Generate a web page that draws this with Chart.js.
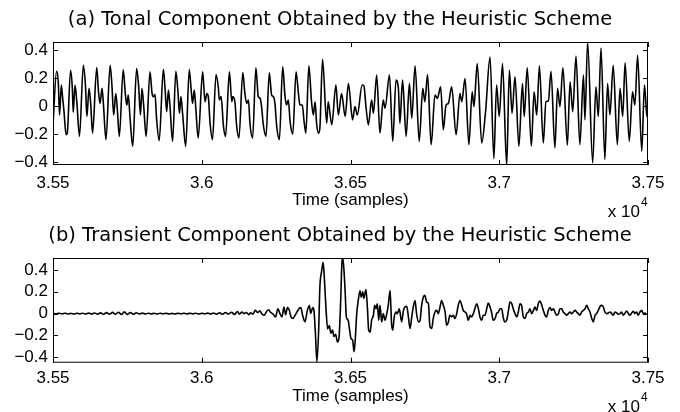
<!DOCTYPE html>
<html>
<head>
<meta charset="utf-8">
<script src="https://cdn.jsdelivr.net/npm/chart.js@4"></script>
<style>
  body { margin: 0; background: #fff; }
  #wrap { position: relative; width: 680px; height: 412px; }
  .panel { position: absolute; left: 0; width: 680px; }
</style>
</head>
<body>
<div id="wrap">
  <div class="panel" style="top:0;height:218px"><canvas id="tonal"></canvas></div>
  <div class="panel" style="top:218px;height:194px"><canvas id="transient"></canvas></div>
</div>
<script>
// ---- data (time in samples, amplitude) ----
const titleA = '(a) Tonal Component Obtained by the Heuristic Scheme';
const titleB = '(b) Transient Component Obtained by the Heuristic Scheme';

const tonalT = [35500,35512,35518,35522,35528,35532,35537,35544,35548,35559,35565,35568,35574,35580,35589,
  35602,35609,35614,35621,35627,35633,35647,35653,35658,35665,35670,35678,35692,35698,35704,35711,35716,35723,
  35736,35743,35748,35753,35759,35768,35781,35788,35794,35799,35805,35813,35826,35833,35837,35843,35848,35857,
  35871,35877,35882,35888,35893,35902,35913,35920,35925,35930,35936,35946,35958,35965,35969,35975,35980,35988,
  36003,36011,36017,36022,36028,36036,36048,36056,36059,36065,36073,36080,36093,36101,36104,36112,36117,36125,
  36138,36145,36151,36157,36162,36171,36182,36190,36196,36201,36207,36216,36227,36235,36241,36246,36252,36261,
  36272,36280,36285,36291,36297,36306,36317,36325,36330,36338,36344,36350,36360,36369,36375,36381,36386,36392,36397,
  36406,36420,36425,36437,36451,36459,36470,36482,36493,
  36507,36515,36523,36539,36545,36552,36560,36571,36577,36588,36599,36610,36616,36631,36642,36653,36661,36666,36675,36687,
  36698,36706,36717,36731,36743,36750,36759,36771,36784,36792,36803,36812,36821,36829,36840,36855,36868,36874,36885,36898,
  36909,36915,36926,36941,36954,36969,36982,
  36991,37000,37011,37025,37034,37043,37053,37066,37078,37084,37094,37108,37117,37126,37135,37148,37157,37165,37174,37187,
  37196,37204,37214,37229,37238,37247,37258,37271,37283,37288,37297,37314,37325,37333,37342,37355,37364,37372,37383,37397,
  37406,37415,37423,37437,37448,37456,37465,37479,37488,37496,37500];
const tonalV = [-0.133,0.251,0.163,-0.062,0.152,0.069,-0.038,-0.204,-0.192,0.258,0.128,-0.043,0.152,0.033,-0.215,
  0.294,0.152,-0.073,0.128,0.009,-0.192,0.277,0.104,0.021,0.128,-0.002,-0.239,0.294,0.152,-0.062,0.092,-0.014,-0.215,
  0.263,0.092,0.009,0.080,-0.085,-0.286,0.270,0.140,-0.062,0.128,-0.002,-0.215,0.246,0.092,0.069,0.085,-0.085,-0.246,
  0.265,0.116,-0.038,0.116,0.009,-0.251,0.251,0.104,-0.050,0.069,-0.062,-0.286,0.263,0.104,0.021,0.116,-0.014,-0.227,
  0.246,0.033,0.092,0.069,-0.121,-0.239,0.227,0.128,0.045,0.069,-0.144,-0.215,0.246,0.033,0.069,0.021,-0.133,-0.227,
  0.241,0.092,0.021,0.045,-0.121,-0.227,0.275,0.069,0.057,-0.002,-0.133,-0.215,0.239,0.080,0.069,0.021,-0.144,-0.239,
  0.282,0.069,0.009,0.045,-0.109,-0.199,0.246,0.092,0.009,0.009,-0.109,-0.192,0.289,0.033,-0.062,0.033,-0.121,-0.192,-0.156,
  0.336,-0.121,0.033,-0.133,0.152,-0.062,0.092,-0.073,0.163,
  -0.097,-0.002,-0.062,0.152,0.147,-0.002,-0.133,0.045,-0.050,0.223,-0.192,0.045,-0.014,0.223,-0.251,0.187,0.128,-0.121,0.187,-0.215,
  0.163,-0.085,0.289,-0.251,0.128,0.033,0.227,-0.275,0.080,0.057,0.140,-0.168,0.009,0.021,0.140,-0.204,0.092,0.033,0.199,-0.275,
  0.104,-0.002,0.305,-0.263,-0.038,0.353,-0.374,
  0.152,-0.073,0.305,-0.421,0.258,-0.050,0.211,-0.286,0.163,-0.073,0.275,-0.286,0.104,-0.062,0.289,-0.263,0.033,0.038,0.251,-0.298,
  0.128,-0.002,0.275,-0.279,0.175,-0.038,0.360,-0.275,0.223,-0.097,0.459,-0.405,0.140,-0.073,0.417,-0.381,0.163,-0.062,0.294,-0.275,
  0.128,-0.073,0.312,-0.251,0.104,0.009,0.365,-0.322,0.152,-0.062,-0.080];

const transT = [35500,35510,35520,35530,35540,35550,35560,35570,35580,35590,35600,35610,35620,35630,35640,35650,
  35660,35670,35680,35690,35700,35710,35720,35730,35740,35750,35760,35770,35780,35790,35800,35810,35820,35830,
  35840,35850,35860,35870,35880,35890,35900,35910,35920,35930,35940,35950,35960,
  35970,35980,35990,36000,36010,36020,36030,36040,36050,36060,36070,36080,36090,36100,36110,
  36120,36127,36135,36142,36150,36158,36165,36172,36180,36188,36195,36203,36210,36218,36225,36232,36240,36248,
  36256,36263,36270,36276,36282,36288,36294,36300,36306,36313,36320,36327,36333,36339,36347,36355,36362,36366,
  36373,36377,36382,36387,36393,36397,36403,36408,36412,36418,36423,36429,36434,36440,36444,36450,36456,36461,
  36467,36471,36474,36478,36482,36486,36492,36497,36502,36507,36512,36516,36521,36526,36532,36536,36541,36545,
  36552,36557,36561,36566,36571,36577,36581,36586,36590,36595,36599,36605,36610,36616,36622,36627,36633,36638,
  36642,36647,36653,36657,36664,36672,36678,36683,36689,36694,36700,36706,36711,36717,36722,36729,36734,36739,
  36745,36750,36756,36762,36767,36773,36778,36784,36790,36795,36801,36806,36812,36818,36823,36829,36834,36840,
  36846,36851,36857,36862,36868,36874,36879,36885,36890,36896,36902,36907,36913,36918,36924,36930,36935,36941,
  36946,36952,36958,36963,36969,36974,36980,36986,36991,36997,
  37003,37008,37014,37019,37025,37031,37036,37042,37047,37053,37059,37064,37070,37075,37081,37087,37092,37098,
  37103,37109,37115,37120,37126,37131,37137,37143,37148,37154,37159,37165,37171,37176,37182,37187,37193,37199,
  37204,37210,37215,37221,37227,37232,37238,37243,37249,37255,37260,37266,37271,37277,37283,37288,37294,37299,
  37305,37311,37316,37322,37327,37333,37339,37344,37350,37355,37361,37367,37372,37378,37383,37389,37395,37400,
  37406,37411,37417,37423,37428,37434,37439,37445,37451,37456,37462,37467,37473,37479,37484,37490,37495,37500];
const transV = [0.002,-0.003,0.003,-0.002,0.004,-0.003,0.002,-0.004,0.003,-0.002,0.004,-0.004,0.005,-0.003,0.006,-0.005,
  0.007,-0.006,0.009,-0.005,0.011,-0.006,0.012,-0.008,0.016,-0.007,0.010,-0.006,0.008,-0.004,0.005,-0.004,0.004,-0.003,
  0.003,-0.004,0.004,-0.002,0.003,-0.003,0.002,-0.003,0.003,-0.002,0.004,-0.003,0.003,
  -0.002,0.004,-0.004,0.003,-0.002,0.005,-0.004,0.006,-0.005,0.008,-0.006,0.010,-0.004,0.012,-0.008,
  0.020,-0.005,0.015,0.000,0.010,-0.010,0.008,-0.005,0.030,0.010,0.025,-0.005,-0.015,0.020,0.035,0.010,-0.005,-0.030,
  0.045,0.000,-0.030,0.060,-0.010,0.055,0.035,-0.030,-0.045,-0.020,0.015,0.045,0.055,-0.015,-0.075,0.030,0.075,0.000,
  0.055,0.030,-0.180,-0.440,-0.150,0.240,0.390,0.470,0.330,0.030,-0.140,-0.110,-0.180,-0.150,-0.210,-0.190,-0.260,-0.230,
  0.120,0.460,0.510,0.400,0.200,-0.030,-0.060,-0.150,-0.230,-0.240,-0.350,-0.240,0.000,0.120,0.210,0.150,0.200,0.140,
  0.220,0.045,-0.150,-0.170,-0.060,-0.015,0.076,0.045,0.091,-0.061,0.076,-0.076,0.000,-0.061,0.000,0.076,0.212,-0.091,
  -0.152,-0.030,0.015,0.000,0.045,-0.076,0.030,0.061,0.067,-0.015,-0.136,-0.030,0.061,0.121,0.000,-0.076,-0.061,0.076,
  0.152,0.167,0.106,0.091,-0.121,-0.136,-0.045,0.015,0.030,0.000,0.061,0.121,0.076,0.015,-0.106,-0.076,-0.015,-0.030,
  -0.015,-0.045,0.000,0.076,0.121,0.076,0.030,0.015,0.000,-0.061,-0.015,-0.030,0.000,0.045,0.091,0.045,-0.030,-0.061,
  -0.015,-0.015,0.045,0.097,0.061,0.015,-0.061,-0.045,0.000,0.015,
  0.045,0.045,-0.045,-0.076,-0.061,0.030,0.106,0.091,0.045,0.000,-0.030,0.015,0.091,0.076,-0.030,-0.045,0.000,0.015,
  0.045,0.000,0.030,0.061,0.030,0.091,0.115,0.076,0.030,-0.015,-0.030,0.030,0.055,0.030,0.045,0.015,-0.015,0.000,
  0.045,0.045,0.015,0.000,-0.015,0.000,0.015,0.000,0.015,0.030,0.015,0.000,-0.015,0.015,0.030,0.045,0.076,0.045,
  0.015,-0.045,-0.076,-0.015,0.000,0.030,0.067,0.076,0.061,0.015,0.000,0.006,0.015,0.000,-0.015,0.015,0.006,-0.006,
  0.000,0.015,-0.015,0.006,0.024,0.000,-0.015,0.006,0.021,0.000,0.015,-0.015,0.015,0.030,0.000,0.006,-0.006,0.000];

// MATLAB-like box with inward ticks plus the "x 10^4" exponent
const frame = {
  id: 'frame',
  afterLayout(chart, args, opts) {
    // centre the title a little left of the axes, as in the figure
    const tb = chart.titleBlock;
    if (tb) { tb.left = opts.titleL; tb.right = opts.titleR; }
  },
  afterDraw(chart, args, opts) {
    const {ctx, chartArea: a, scales: {x, y}} = chart;
    ctx.save();
    ctx.strokeStyle = '#000';
    ctx.lineWidth = 1;
    ctx.strokeRect(a.left + 0.5, a.top + 0.5, a.width - 1, a.height - 1);
    ctx.beginPath();
    x.ticks.forEach(t => {
      const px = Math.round(x.getPixelForValue(t.value)) + 0.5;
      ctx.moveTo(px, a.bottom); ctx.lineTo(px, a.bottom - 5);
      ctx.moveTo(px, a.top); ctx.lineTo(px, a.top + 5);
    });
    y.ticks.forEach(t => {
      const py = Math.round(y.getPixelForValue(t.value)) + 0.5;
      ctx.moveTo(a.left, py); ctx.lineTo(a.left + 5, py);
      ctx.moveTo(a.right, py); ctx.lineTo(a.right - 5, py);
    });
    ctx.stroke();
    ctx.fillStyle = '#000';
    ctx.textBaseline = 'middle';
    ctx.font = '17px "Liberation Sans"';
    ctx.textAlign = 'right';
    ctx.fillText('x 10', 640, opts.expY);
    ctx.font = '12px "Liberation Sans"';
    ctx.textAlign = 'left';
    ctx.fillText('4', 641, opts.expY - 9);
    ctx.restore();
  }
};

const tickFont = {family: '"Liberation Sans", Arial, sans-serif', size: 17};

function yLabel(v) {
  if (Math.abs(v) < 1e-9) return '0';
  return (v < 0 ? '\u2212' : '') + Math.abs(v).toFixed(1);
}

function panel(id, title, ts, vs, yMin, yMax, box) {
  return new Chart(document.getElementById(id), {
    type: 'line',
    data: {
      datasets: [{
        data: ts.map((t, i) => ({x: t, y: vs[i]})),
        borderColor: '#000',
        borderWidth: 1.6,
        pointRadius: 0,
        cubicInterpolationMode: 'monotone',
        fill: false
      }]
    },
    options: {
      responsive: true,
      maintainAspectRatio: false,
      animation: false,
      layout: {padding: {left: 0, right: 32, top: 0, bottom: 0}},
      scales: {
        x: {
          type: 'linear',
          min: 35500,
          max: 37500,
          grid: {display: false, drawTicks: false},
          border: {display: false},
          ticks: {
            stepSize: 500,
            autoSkip: false,
            maxRotation: 0,
            padding: box.tickPad,
            color: '#000',
            font: tickFont,
            callback: v => String(+(v / 1e4).toFixed(2))
          },
          title: {
            display: true,
            text: 'Time (samples)',
            color: '#000',
            font: tickFont,
            padding: {top: 0, bottom: box.axTitlePad}
          },
          afterFit: s => { s.height = box.xh; }
        },
        y: {
          min: yMin,
          max: yMax,
          grid: {display: false, drawTicks: false},
          border: {display: false},
          ticks: {
            stepSize: 0.2,
            includeBounds: false,
            padding: 5,
            color: '#000',
            font: tickFont,
            callback: yLabel
          },
          afterFit: s => { s.width = 53; }
        }
      },
      plugins: {
        legend: {display: false},
        tooltip: {enabled: false},
        title: {
          display: true,
          text: title,
          fullSize: false,
          color: '#000',
          font: {family: '"DejaVu Sans", sans-serif', size: 19.5, weight: 'normal'},
          padding: {top: box.tTop, bottom: box.tBot}
        },
        frame: {expY: box.expY, titleL: 32, titleR: 648}
      }
    },
    plugins: [frame]
  });
}

panel('tonal', titleA, tonalT, tonalV, -0.42, 0.46,
  {tickPad: 7.8, axTitlePad: 7.8, xh: 53, tTop: 7.8, tBot: 10.8, expY: 212});
panel('transient', titleB, transT, transV, -0.45, 0.51,
  {tickPad: 5.4, axTitlePad: 5.8, xh: 49.3, tTop: 6.3, tBot: 10.3, expY: 189});
</script>
</body>
</html>
